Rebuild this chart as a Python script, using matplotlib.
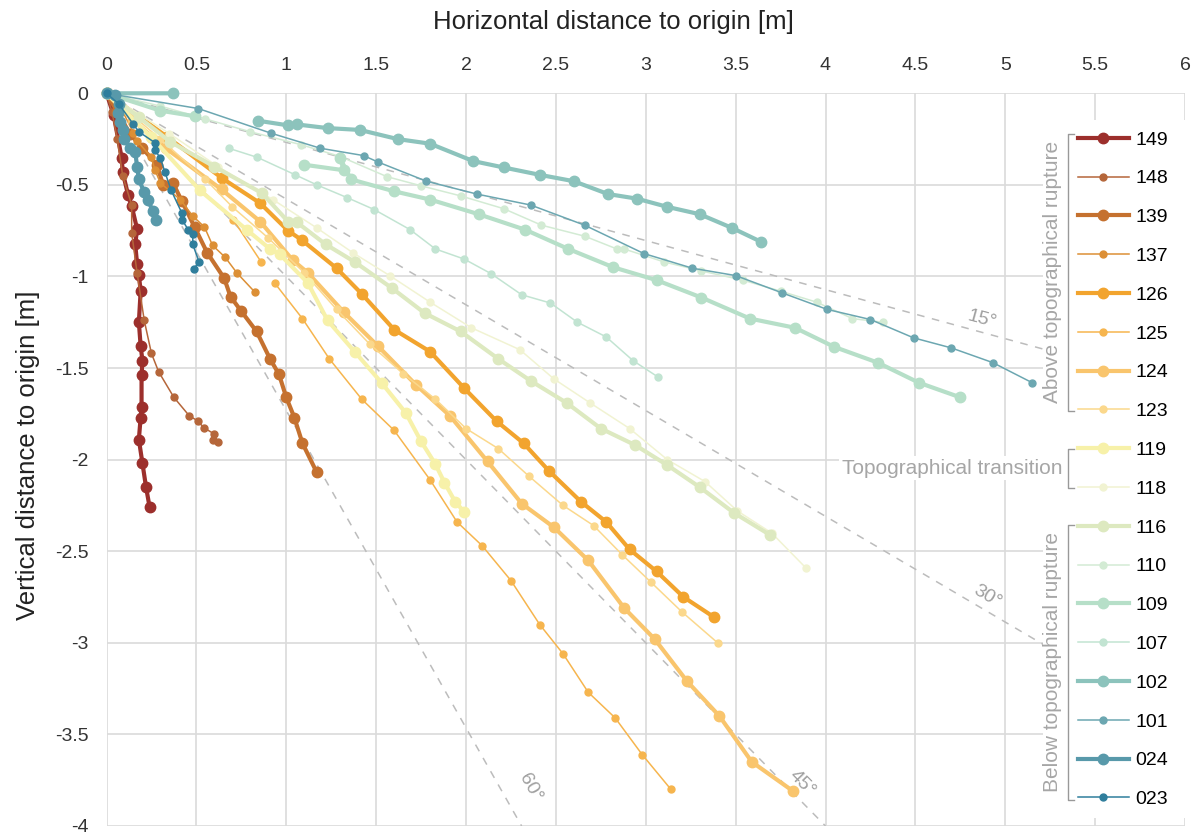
import numpy as np
import matplotlib
matplotlib.use("Agg")
import matplotlib.pyplot as plt
from matplotlib.lines import Line2D
from matplotlib.patches import Rectangle
from matplotlib.ticker import FuncFormatter

plt.rcParams['font.family'] = ['Liberation Sans', 'DejaVu Sans']
plt.rcParams['axes.unicode_minus'] = False

nan = np.nan

# --- data (metres) ---
x149 = [0, 0.04, 0.085, 0.09, 0.12, 0.14, 0.17, 0.16, 0.17, 0.18, 0.19, 0.18, 0.19, 0.20, 0.195, 0.195, 0.19, 0.18, 0.20, 0.22, 0.24]
y149 = [0, -0.12, -0.355, -0.43, -0.555, -0.615, -0.74, -0.825, -0.93, -0.99, -1.08, -1.25, -1.38, -1.46, -1.54, -1.71, -1.77, -1.89, -2.02, -2.15, -2.26]

x148 = [0, 0.03, 0.06, 0.09, 0.14, 0.14, 0.17, 0.21, 0.25, 0.29, 0.375, 0.46, 0.51, 0.54, 0.60, 0.595, 0.62]
y148 = [0, -0.10, -0.25, -0.45, -0.61, -0.76, -0.98, -1.24, -1.42, -1.52, -1.66, -1.76, -1.79, -1.825, -1.86, -1.89, -1.905]

x139 = [0, 0.06, 0.13, 0.20, 0.28, 0.315, 0.37, 0.42, 0.49, 0.56, 0.655, 0.69, 0.75, 0.835, 0.91, 0.96, 1.00, 1.045, 1.09, 1.17]
y139 = [0, -0.10, -0.22, -0.30, -0.39, -0.50, -0.49, -0.59, -0.73, -0.87, -1.01, -1.11, -1.19, -1.30, -1.45, -1.535, -1.66, -1.77, -1.91, -2.07]

x137 = [0, 0.08, 0.15, 0.17, 0.25, 0.27, 0.30, 0.41, 0.48, 0.545, 0.59, 0.66, 0.725, 0.825]
y137 = [0, -0.08, -0.215, -0.26, -0.35, -0.42, -0.49, -0.58, -0.67, -0.73, -0.83, -0.895, -0.98, -1.085]

x126 = [0, 0.335, 0.645, 0.855, 1.01, 1.085, 1.28, 1.42, 1.60, 1.80, 1.99, 2.17, 2.32, 2.46, 2.64, 2.78, 2.91, 3.06, 3.21, 3.38]
y126 = [0, -0.236, -0.465, -0.60, -0.75, -0.80, -0.955, -1.095, -1.29, -1.41, -1.61, -1.79, -1.91, -2.06, -2.23, -2.34, -2.49, -2.61, -2.75, -2.86]

x125 = [0, 0.25, 0.52, 0.705, 0.86, nan, 0.935, 1.09, 1.24, 1.42, 1.60, 1.80, 1.95, 2.09, 2.25, 2.41, 2.54, 2.68, 2.83, 2.98, 3.14]
y125 = [0, -0.25, -0.52, -0.69, -0.92, nan, -1.035, -1.23, -1.45, -1.67, -1.84, -2.11, -2.34, -2.47, -2.66, -2.90, -3.06, -3.27, -3.41, -3.61, -3.80]

x124 = [0, 0.15, 0.33, 0.64, 0.855, 1.035, 1.12, 1.32, 1.51, 1.72, 1.91, 2.12, 2.31, 2.49, 2.68, 2.88, 3.05, 3.23, 3.41, 3.59, 3.82]
y124 = [0, -0.15, -0.30, -0.525, -0.70, -0.91, -0.98, -1.195, -1.38, -1.59, -1.76, -2.01, -2.24, -2.37, -2.55, -2.81, -2.98, -3.21, -3.40, -3.65, -3.81]

x123 = [0, 0.30, 0.55, 0.70, 0.90, 1.10, 1.28, 1.465, 1.65, 1.83, 2.00, 2.18, 2.35, 2.54, 2.71, 2.87, 3.03, 3.20, 3.40]
y123 = [0, -0.25, -0.47, -0.62, -0.79, -0.98, -1.18, -1.37, -1.53, -1.67, -1.83, -1.94, -2.09, -2.25, -2.36, -2.52, -2.67, -2.83, -3.00]

x119 = [0, 0.25, 0.52, 0.78, 0.91, 0.965, 1.12, 1.23, 1.38, 1.53, 1.665, 1.75, 1.83, 1.88, 1.94, 1.99]
y119 = [0, -0.24, -0.53, -0.745, -0.85, -0.88, -1.035, -1.24, -1.41, -1.58, -1.745, -1.90, -2.025, -2.125, -2.23, -2.285]

x118 = [0, 0.35, 0.62, 0.925, 1.17, 1.37, 1.575, 1.80, 2.03, 2.30, 2.49, 2.69, 2.91, 3.12, 3.33, 3.51, 3.70, 3.89]
y118 = [0, -0.22, -0.40, -0.58, -0.735, -0.87, -0.995, -1.14, -1.28, -1.40, -1.56, -1.69, -1.83, -2.00, -2.12, -2.28, -2.40, -2.59]

x116 = [0, 0.18, 0.355, 0.60, 0.865, 1.01, 1.06, 1.22, 1.38, 1.59, 1.77, 1.97, 2.18, 2.36, 2.56, 2.75, 2.94, 3.12, 3.30, 3.49, 3.69]
y116 = [0, -0.13, -0.265, -0.40, -0.545, -0.70, -0.705, -0.825, -0.92, -1.065, -1.20, -1.30, -1.45, -1.57, -1.69, -1.83, -1.92, -2.03, -2.15, -2.29, -2.41]

x110 = [0, 0.30, 0.55, 0.80, 1.08, 1.30, 1.56, 1.75, 1.97, 2.21, 2.42, 2.66, 2.84, 2.88, 3.10, 3.31, 3.54, 3.75, 3.95, 4.15, 4.32]
y110 = [0, -0.07, -0.14, -0.21, -0.28, -0.345, -0.455, -0.505, -0.56, -0.63, -0.72, -0.78, -0.85, -0.85, -0.92, -0.97, -1.02, -1.08, -1.14, -1.23, -1.25]

x109 = [0, 0.30, 0.49, nan, 1.10, 1.32, 1.30, 1.36, 1.60, 1.80, 2.07, 2.33, 2.57, 2.82, 3.06, 3.31, 3.58, 3.83, 4.05, 4.29, 4.52, 4.75]
y109 = [0, -0.095, -0.125, nan, -0.39, -0.42, -0.355, -0.47, -0.535, -0.58, -0.66, -0.745, -0.85, -0.95, -1.02, -1.115, -1.23, -1.28, -1.385, -1.47, -1.58, -1.66]

x107 = [0, nan, 0.68, 0.84, 1.05, 1.17, 1.34, 1.49, 1.69, 1.83, 1.99, 2.14, 2.31, 2.47, 2.62, 2.78, 2.93, 3.07]
y107 = [0, nan, -0.30, -0.35, -0.445, -0.50, -0.57, -0.635, -0.745, -0.85, -0.905, -0.985, -1.10, -1.145, -1.25, -1.33, -1.46, -1.55]

x102 = [0, 0.37, nan, 0.845, 1.01, 1.06, 1.23, 1.41, 1.62, 1.80, 2.04, 2.21, 2.41, 2.60, 2.79, 2.95, 3.12, 3.30, 3.48, 3.64]
y102 = [0, 0, nan, -0.15, -0.175, -0.17, -0.19, -0.20, -0.25, -0.275, -0.37, -0.405, -0.445, -0.48, -0.55, -0.575, -0.62, -0.66, -0.735, -0.81]

x101 = [0, 0.51, 0.913, 1.19, 1.43, 1.51, 1.78, 2.06, 2.36, 2.66, 2.99, 3.26, 3.50, 3.76, 4.01, 4.25, 4.49, 4.70, 4.93, 5.15]
y101 = [0, -0.083, -0.217, -0.30, -0.34, -0.375, -0.48, -0.55, -0.61, -0.72, -0.875, -0.955, -0.995, -1.09, -1.18, -1.235, -1.335, -1.39, -1.47, -1.58]

x024 = [0, 0.05, 0.07, 0.065, 0.075, 0.09, 0.10, 0.13, 0.16, 0.17, 0.18, 0.21, 0.23, 0.26, 0.275]
y024 = [0, -0.01, -0.06, -0.11, -0.155, -0.20, -0.25, -0.30, -0.32, -0.40, -0.47, -0.54, -0.585, -0.645, -0.69]

x023 = [0, 0.07, 0.15, 0.18, 0.27, 0.27, 0.30, 0.325, 0.36, 0.42, 0.42, 0.455, 0.48, 0.48, 0.515, 0.485]
y023 = [0, -0.06, -0.17, -0.21, -0.27, -0.31, -0.355, -0.43, -0.53, -0.655, -0.69, -0.745, -0.77, -0.825, -0.92, -0.96]

names = ["149", "148", "139", "137", "126", "125", "124", "123", "119", "118",
         "116", "110", "109", "107", "102", "101", "024", "023"]
xs = [x149, x148, x139, x137, x126, x125, x124, x123, x119, x118,
      x116, x110, x109, x107, x102, x101, x024, x023]
ys = [y149, y148, y139, y137, y126, y125, y124, y123, y119, y118,
      y116, y110, y109, y107, y102, y101, y024, y023]
colors = ["#9c2f2c", "#b5663a", "#c5712f", "#dc8f35", "#f2a42e", "#f6b54e",
          "#f9c56d", "#fbd88c", "#f7f1a9", "#f1f3d2", "#dde9c0", "#d3ebd4",
          "#b6dfc8", "#c2e4d2", "#8cc3bc", "#6ca7b1", "#5899aa", "#2f7e9c"]
thick = [True, False, True, False, True, False, True, False, True, False,
         True, False, True, False, True, False, True, False]

angles = [15, 30, 45, 60]
angle_pos = [(4.87, -1.235), (4.90, -2.75), (3.87, -3.77), (2.355, -3.79)]

W, H = 1198, 836
fig = plt.figure(figsize=(W / 100, H / 100), dpi=100)
ax = fig.add_axes([106.5 / W, 1 - 826 / H, (1185 - 106.5) / W, (826 - 93.3) / H])
ax.set_xlim(0, 6)
ax.set_ylim(-4, 0)
ax.set_xticks(np.arange(0, 6.01, 0.5))
ax.set_yticks(np.arange(-4, 0.01, 0.5))
ax.xaxis.tick_top()
fmt = FuncFormatter(lambda v, p: "%g" % v)
ax.xaxis.set_major_formatter(fmt)
ax.yaxis.set_major_formatter(fmt)
for s in ax.spines.values():
    s.set_visible(False)
ax.tick_params(axis="both", length=0, labelsize=14, labelcolor="#333333")
ax.tick_params(axis="x", pad=14)
ax.tick_params(axis="y", pad=13)
ax.grid(color="#dadada", lw=1.2)
ax.set_axisbelow(True)

# reference slopes
for ang, (tx, ty) in zip(angles, angle_pos):
    t = np.tan(np.radians(ang))
    xe = min(6.0, 4.0 / t)
    ax.plot([0, xe], [0, -t * xe], ls=(0, (5, 5)), color="#bcbcbc", lw=1.1, zorder=1)
    rot = np.degrees(np.arctan(t * 183.6 / 179.8))
    ax.text(tx, ty, "%d°" % ang, rotation=-rot, rotation_mode="anchor",
            ha="center", va="center", fontsize=14, color="#a0a0a0", zorder=1)

handles = []
for n, x, y, c, tk in zip(names, xs, ys, colors, thick):
    lw = 3.0 if tk else 1.1
    ms = 7.5 if tk else 5
    ax.plot(x, y, color=c, lw=lw, marker="o", ms=ms, mec=c, mfc=c,
            clip_on=False, zorder=3)
    handles.append(Line2D([], [], color=c, lw=lw, marker="o", ms=ms, mec=c, mfc=c))

# white legend panel
fig.add_artist(Rectangle((1043 / W, 1 - 818 / H), (W - 1043) / W, (818 - 120) / H,
                         transform=fig.transFigure, facecolor="white",
                         edgecolor="none", zorder=4))
fig.legend(handles, names, loc="upper left", bbox_to_anchor=(1078 / W, 1 - 131 / H),
           frameon=False, borderpad=0, borderaxespad=0, handlelength=2.6,
           handletextpad=0.35, labelspacing=1.09, fontsize=14)

gray = "#a6a6a6"


def bracket(y0, y1, x=1068):
    xx = [1074 / W, x / W, x / W, 1074 / W]
    yy = [1 - y0 / H, 1 - y0 / H, 1 - y1 / H, 1 - y1 / H]
    fig.add_artist(Line2D(xx, yy, transform=fig.transFigure, color="#999999",
                          lw=1.0, zorder=6))


bracket(134, 411)
bracket(449, 488)
bracket(525, 800)
fig.text(1053 / W, 1 - 272 / H, "Above topographical rupture", rotation=90,
         ha="center", va="center", fontsize=15, color=gray, zorder=6)
fig.text(1053 / W, 1 - 662 / H, "Below topographical rupture", rotation=90,
         ha="center", va="center", fontsize=15, color=gray, zorder=6)
fig.text(1062 / W, 1 - 468 / H, "Topographical transition", ha="right", va="center",
         fontsize=15, color=gray, zorder=6,
         bbox=dict(facecolor="white", edgecolor="none", pad=2))

fig.text(613 / W, 1 - 22 / H, "Horizontal distance to origin [m]", ha="center",
         va="center", fontsize=18.5, color="#222222")
fig.text(28 / W, 1 - 455 / H, "Vertical distance to origin [m]", ha="center",
         va="center", rotation=90, fontsize=18.5, color="#222222")

fig.savefig("out.png", dpi=100)
